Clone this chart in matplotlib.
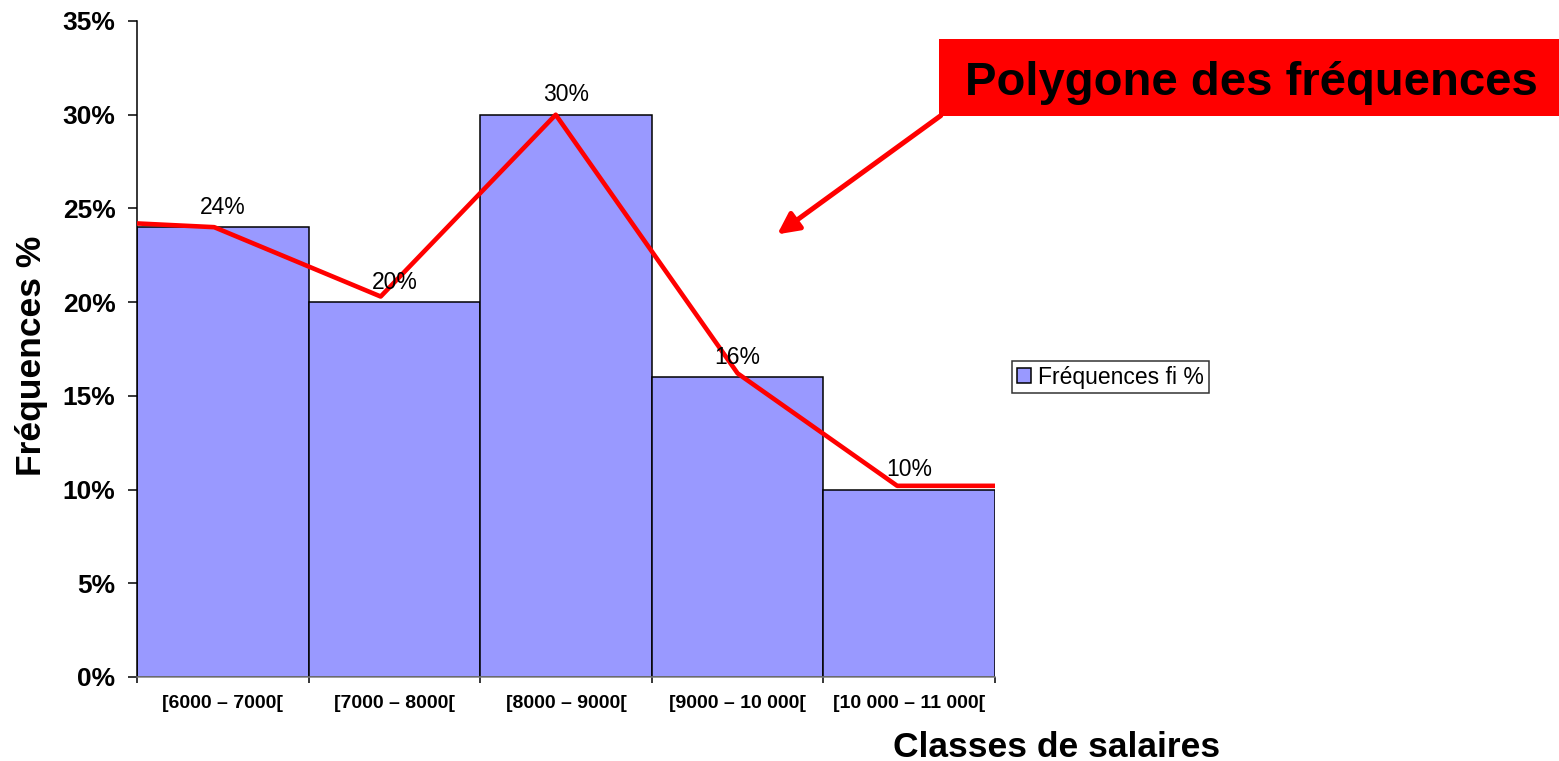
import numpy as np
import matplotlib
matplotlib.use("Agg")
import matplotlib.pyplot as plt
from matplotlib.patches import Rectangle, FancyArrowPatch

plt.rcParams['font.family'] = ['Liberation Sans', 'DejaVu Sans']

# donnees
classes = ["[6000 – 7000[", "[7000 – 8000[", "[8000 – 9000[", "[9000 – 10 000[", "[10 000 – 11 000["]
freq = [24, 20, 30, 16, 10]
# polygone des frequences (trace a la main sur l'original)
poly_x = [0.0, 0.45, 1.42, 2.44, 3.5, 4.43, 5.0]
poly_y = [24.2, 24.0, 20.3, 30.0, 16.2, 10.2, 10.2]
yticks = [0, 5, 10, 15, 20, 25, 30, 35]

W, H = 1559, 761
fig = plt.figure(figsize=(W / 100, H / 100), dpi=100)
ax = fig.add_axes([137 / W, 1 - 677 / H, (995 - 137) / W, (677 - 21) / H])

x = np.arange(len(freq)) + 0.5
ax.bar(x, freq, width=1.0, color="#9999FF", edgecolor="black", linewidth=1.1,
       label="Fréquences fi %", zorder=2)
for xi, v in zip(x, freq):
    ax.annotate(f"{v}%", (xi, v), xytext=(0, 6), textcoords="offset points",
                ha="center", va="bottom", fontsize=16.5, zorder=4)
ax.plot(poly_x, poly_y, color="#FF0000", lw=3.3, zorder=3, solid_capstyle="butt")

ax.set_xlim(0, 5)
ax.set_ylim(0, 35)
ax.set_yticks(yticks)
ax.set_yticklabels([f"{t}%" for t in yticks], fontsize=19, fontweight="bold")
ax.tick_params(axis="y", direction="out", length=6.5, width=1.1, pad=9)
ax.set_xticks(np.arange(6))
ax.set_xticklabels([])
ax.tick_params(axis="x", which="major", direction="out", length=4.5, width=1.1)
ax.set_xticks(x, minor=True)
ax.set_xticklabels(classes, minor=True, fontsize=14, fontweight="bold")
ax.tick_params(axis="x", which="minor", length=0, pad=13)

for s in ["top", "right"]:
    ax.spines[s].set_visible(False)
ax.spines["left"].set_linewidth(1.1)
ax.spines["bottom"].set_color("#808080")
ax.spines["bottom"].set_linewidth(1.1)

leg = fig.legend(loc="center left", bbox_to_anchor=(1012 / W, 1 - 377 / H),
                 fontsize=16.5, frameon=True, fancybox=False, edgecolor="black",
                 handlelength=0.65, handleheight=0.65, handletextpad=0.3,
                 borderpad=0.2, borderaxespad=0)
leg.get_frame().set_linewidth(1.1)

fig.text(1057 / W, 1 - 757 / H, "Classes de salaires", ha="center", va="baseline",
         fontsize=25.5, fontweight="bold")
fig.text(32 / W, 1 - 356 / H, "Fréquences %", ha="center", va="center",
         rotation=90, fontsize=25.5, fontweight="bold")

# encadre rouge + fleche
fig.patches.append(Rectangle((939 / W, 1 - 116 / H), (W - 939) / W, 77 / H,
                             transform=fig.transFigure, facecolor="#FF0000",
                             edgecolor="none", zorder=5))
fig.text(1251 / W, 1 - 95 / H, "Polygone des fréquences", ha="center", va="baseline",
         fontsize=34, fontweight="bold", zorder=6)
fig.patches.append(FancyArrowPatch((943 / W, 1 - 114 / H), (775 / W, 1 - 236 / H),
                                   transform=fig.transFigure, arrowstyle="-|>",
                                   mutation_scale=32, lw=3.6, color="#FF0000",
                                   zorder=5))

fig.savefig("out.png", dpi=100)
